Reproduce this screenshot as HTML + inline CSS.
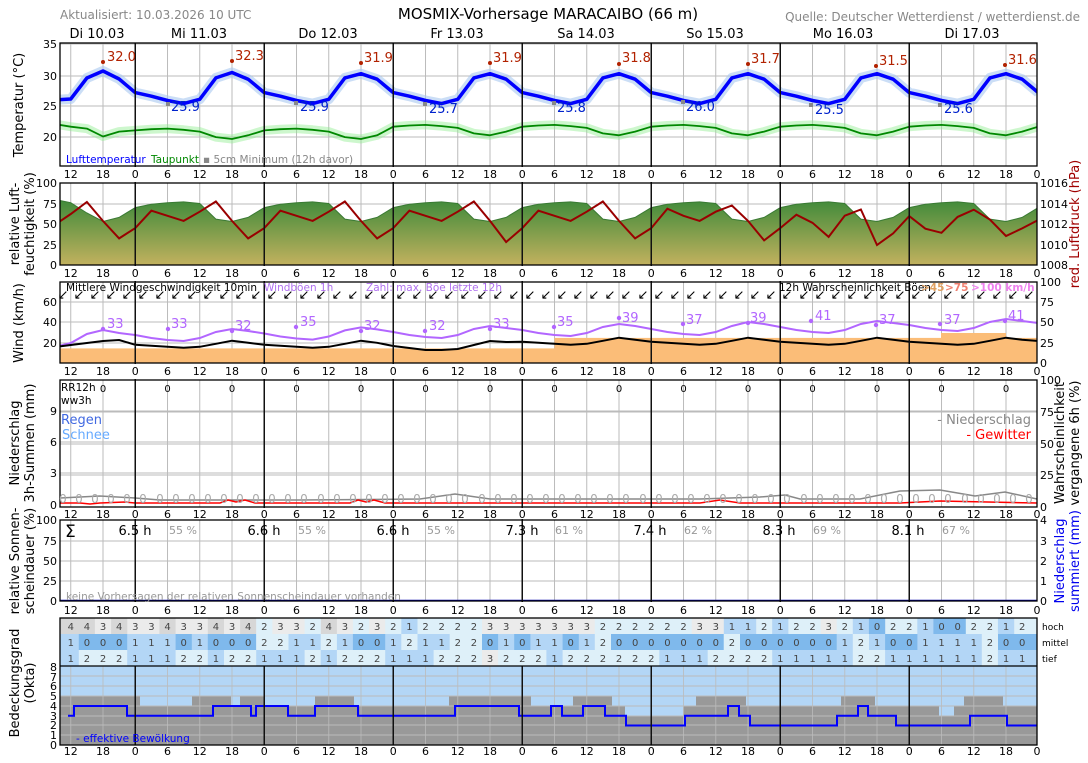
<!DOCTYPE html>
<html><head><meta charset="utf-8"><style>
html,body{margin:0;padding:0;background:#fff;}
svg{display:block;font-family:"DejaVu Sans","Liberation Sans",sans-serif;}
.tk text{font-size:11px;text-anchor:middle;}
</style></head><body>
<svg width="1088" height="763" viewBox="0 0 1088 763" xmlns="http://www.w3.org/2000/svg">
<defs>
<linearGradient id="hg" x1="0" y1="0" x2="0" y2="1"><stop offset="0" stop-color="#3f8a3a"/><stop offset="1" stop-color="#c2b15e"/></linearGradient>
<pattern id="vg" patternUnits="userSpaceOnUse" x="70.25" y="0" width="32.25" height="800"><rect x="0" y="0" width="1" height="800" fill="#bbb"/></pattern>
<clipPath id="c1"><rect x="60" y="43" width="977" height="123"/></clipPath>
<clipPath id="c2"><rect x="60" y="183" width="977" height="82"/></clipPath>
<clipPath id="c3"><rect x="60" y="282" width="977" height="81"/></clipPath>
<clipPath id="c4"><rect x="60" y="380" width="977" height="127"/></clipPath>
</defs>

<!-- okta backgrounds -->
<rect x="60" y="666" width="977" height="79" fill="#b3d6f6"/>
<path d="M60 745 L60 696.25 L140 696.25 L140 706 L192 706 L192 696.25 L231 696.25 L231 706 L240 706 L240 696.25 L264 696.25 L264 706 L315 706 L315 696.25 L354 696.25 L354 706 L449 706 L449 696.25 L531 696.25 L531 706 L573 706 L573 696.25 L612 696.25 L612 706 L625 706 L625 715.75 L683 715.75 L683 706 L696 706 L696 696.25 L746 696.25 L746 706 L841 706 L841 696.25 L875 696.25 L875 706 L939 706 L939 715.75 L954 715.75 L954 706 L964 706 L964 696.25 L1003 696.25 L1003 706 L1037 706 L1037 745 Z" fill="#999"/>

<!-- vertical grids -->
<rect x="60" y="43" width="977" height="123" fill="url(#vg)"/>
<rect x="60" y="183" width="977" height="82" fill="url(#vg)"/>
<rect x="60" y="282" width="977" height="81" fill="url(#vg)"/>
<rect x="60" y="380" width="977" height="127" fill="url(#vg)"/>
<rect x="60" y="520" width="977" height="81" fill="url(#vg)"/>
<rect x="60" y="666" width="977" height="79" fill="url(#vg)" opacity="0.8"/>
<!-- horizontal grids -->
<path fill="none" stroke="#bbb" stroke-width="1" d="M60 44H1037M60 76H1037M60 106H1037M60 137H1037 M60 204H1037M60 224H1037M60 245H1037 M60 302H1037M60 322H1037M60 343H1037 M60 411H1037M60 442H1037M60 473H1037M60 412H1037M60 444H1037M60 475H1037 M60 541H1037M60 561H1037M60 581H1037 M60 676H1037M60 686H1037M60 696H1037M60 706H1037M60 716H1037M60 725H1037M60 735H1037"/>

<!-- humidity / pressure -->
<g clip-path="url(#c2)">
<polygon fill="url(#hg)" stroke="#3a7a34" stroke-width="1" points="54.6,265 54.6,199.4 70.75,202.7 86.88,213 103,221.5 119.13,217.4 135.25,207.6 151.38,204.3 167.5,202.7 183.63,201.9 199.75,203.5 215.88,219.1 232,221.5 248.13,217.4 264.25,207.6 280.38,204.3 296.5,202.7 312.63,201.9 328.75,203.5 344.88,219.1 361,221.5 377.13,217.4 393.25,207.6 409.38,204.3 425.5,202.7 441.63,201.9 457.75,203.5 473.88,219.1 490,221.5 506.13,217.4 522.25,207.6 538.38,204.3 554.5,202.7 570.63,201.9 586.75,203.5 602.88,219.1 619,221.5 635.13,217.4 651.25,207.6 667.38,204.3 683.5,202.7 699.63,201.9 715.75,203.5 731.88,219.1 748,221.5 764.13,217.4 780.25,207.6 796.38,204.3 812.5,202.7 828.63,201.9 844.75,203.5 860.88,219.1 877,221.5 893.13,217.4 909.25,207.6 925.38,204.3 941.5,202.7 957.63,201.9 973.75,203.5 989.88,219.1 1006,221.5 1022.13,217.4 1038.25,207.6 1038.25,265"/>
<polyline fill="none" stroke="#990000" stroke-width="2" points="54.6,225 70.75,214 86.88,202 103,221 119.13,238.4 135.25,228.1 151.38,210.7 167.5,215.8 183.63,220.9 199.75,211.7 215.88,201.5 232,220.9 248.13,238.4 264.25,228.1 280.38,210.7 296.5,215.8 312.63,220.9 328.75,211.7 344.88,201.5 361,220.9 377.13,238.4 393.25,228.1 409.38,210.7 425.5,215.8 441.63,220.9 457.75,211.7 473.88,201.5 490,220.9 506.13,242 522.25,228.1 538.38,210.7 554.5,215.8 570.63,220.9 586.75,211.7 602.88,201.5 619,220.9 635.13,238.4 651.25,228.1 667.38,208.7 683.5,215.8 699.63,220.9 715.75,211.7 731.88,205.5 748,220.9 764.13,240.4 780.25,228.1 796.38,214.7 812.5,222.8 828.63,236.9 844.75,215.7 860.88,209.5 877,245 893.13,233.4 909.25,216.1 925.38,228.7 941.5,232.8 957.63,216.9 973.75,209.7 989.88,219.5 1006,236 1022.13,228.4 1038.25,220"/>
</g>

<!-- temperature -->
<g clip-path="url(#c1)" fill="none" stroke-linejoin="round">
<polyline stroke="#90ee90" stroke-opacity="0.45" stroke-width="9" points="54.6,124 70.75,126.7 86.88,128.6 103,136.5 119.13,131.6 135.25,130.4 151.38,129.2 167.5,128.6 183.63,129.8 199.75,131.6 215.88,137.1 232,139 248.13,135.3 264.25,130.4 280.38,129.2 296.5,128.6 312.63,129.8 328.75,131.6 344.88,137.1 361,139 377.13,135.3 393.25,126.7 409.38,125.5 425.5,124.9 441.63,126.1 457.75,127.9 473.88,133.4 490,135.3 506.13,131.6 522.25,126.7 538.38,125.5 554.5,124.9 570.63,126.1 586.75,127.9 602.88,133.4 619,135.3 635.13,131.6 651.25,126.7 667.38,125.5 683.5,124.9 699.63,126.1 715.75,127.9 731.88,133.4 748,135.3 764.13,131.6 780.25,126.7 796.38,125.5 812.5,124.9 828.63,126.1 844.75,127.9 860.88,133.4 877,135.3 893.13,131.6 909.25,126.7 925.38,125.5 941.5,124.9 957.63,126.1 973.75,127.9 989.88,133.4 1006,135.3 1022.13,131.6 1038.25,126.7"/>
<polyline stroke="#008800" stroke-width="1.8" points="54.6,124 70.75,126.7 86.88,128.6 103,136.5 119.13,131.6 135.25,130.4 151.38,129.2 167.5,128.6 183.63,129.8 199.75,131.6 215.88,137.1 232,139 248.13,135.3 264.25,130.4 280.38,129.2 296.5,128.6 312.63,129.8 328.75,131.6 344.88,137.1 361,139 377.13,135.3 393.25,126.7 409.38,125.5 425.5,124.9 441.63,126.1 457.75,127.9 473.88,133.4 490,135.3 506.13,131.6 522.25,126.7 538.38,125.5 554.5,124.9 570.63,126.1 586.75,127.9 602.88,133.4 619,135.3 635.13,131.6 651.25,126.7 667.38,125.5 683.5,124.9 699.63,126.1 715.75,127.9 731.88,133.4 748,135.3 764.13,131.6 780.25,126.7 796.38,125.5 812.5,124.9 828.63,126.1 844.75,127.9 860.88,133.4 877,135.3 893.13,131.6 909.25,126.7 925.38,125.5 941.5,124.9 957.63,126.1 973.75,127.9 989.88,133.4 1006,135.3 1022.13,131.6 1038.25,126.7"/>
<polyline stroke="#a9c8f0" stroke-opacity="0.6" stroke-width="10" points="54.6,100 70.75,99 86.88,78 103,71 119.13,79 135.25,92.6 151.38,96.2 167.5,100.5 183.63,103.6 199.75,99.3 215.88,77.9 232,72.5 248.13,79.2 264.25,92.6 280.38,96.2 296.5,100.5 312.63,103.6 328.75,99.3 344.88,77.9 361,73.7 377.13,79.2 393.25,92.6 409.38,96.2 425.5,100.5 441.63,103.6 457.75,99.3 473.88,77.9 490,73.7 506.13,79.2 522.25,92.6 538.38,96.2 554.5,100.5 570.63,103.6 586.75,99.3 602.88,77.9 619,73.7 635.13,79.2 651.25,92.6 667.38,96.2 683.5,100.5 699.63,103.6 715.75,99.3 731.88,77.9 748,73.7 764.13,79.2 780.25,92.6 796.38,96.2 812.5,100.5 828.63,103.6 844.75,99.3 860.88,77.9 877,73.7 893.13,79.2 909.25,92.6 925.38,96.2 941.5,100.5 957.63,103.6 973.75,99.3 989.88,77.9 1006,73.7 1022.13,79.2 1038.25,92.6"/>
<polyline stroke="#0000ff" stroke-width="3.5" points="54.6,100 70.75,99 86.88,78 103,71 119.13,79 135.25,92.6 151.38,96.2 167.5,100.5 183.63,103.6 199.75,99.3 215.88,77.9 232,72.5 248.13,79.2 264.25,92.6 280.38,96.2 296.5,100.5 312.63,103.6 328.75,99.3 344.88,77.9 361,73.7 377.13,79.2 393.25,92.6 409.38,96.2 425.5,100.5 441.63,103.6 457.75,99.3 473.88,77.9 490,73.7 506.13,79.2 522.25,92.6 538.38,96.2 554.5,100.5 570.63,103.6 586.75,99.3 602.88,77.9 619,73.7 635.13,79.2 651.25,92.6 667.38,96.2 683.5,100.5 699.63,103.6 715.75,99.3 731.88,77.9 748,73.7 764.13,79.2 780.25,92.6 796.38,96.2 812.5,100.5 828.63,103.6 844.75,99.3 860.88,77.9 877,73.7 893.13,79.2 909.25,92.6 925.38,96.2 941.5,100.5 957.63,103.6 973.75,99.3 989.88,77.9 1006,73.7 1022.13,79.2 1038.25,92.6"/>
</g>
<g fill="#b22200"><circle cx="103" cy="62" r="2"/><circle cx="232" cy="61" r="2"/><circle cx="361" cy="63" r="2"/><circle cx="490" cy="63" r="2"/><circle cx="619" cy="64" r="2"/><circle cx="748" cy="64" r="2"/><circle cx="876" cy="66" r="2"/><circle cx="1005" cy="65" r="2"/></g>
<g fill="#888"><rect x="166" y="102" width="4" height="4"/><rect x="294" y="101" width="4" height="4"/><rect x="423" y="102" width="4" height="4"/><rect x="552" y="101" width="4" height="4"/><rect x="681" y="100" width="4" height="4"/><rect x="809" y="103" width="4" height="4"/><rect x="938" y="103" width="4" height="4"/></g>

<!-- wind -->
<g clip-path="url(#c3)">
<rect x="60" y="348.4" width="494.5" height="14.6" fill="#fbbd78"/>
<rect x="554.5" y="337.9" width="386.5" height="25.1" fill="#fbbd78"/>
<rect x="941" y="333" width="65" height="30" fill="#fbbd78"/>
<rect x="1006" y="337.9" width="31" height="25.1" fill="#fbbd78"/>
<polyline fill="none" stroke="#b266ff" stroke-width="2" points="54.6,347 70.75,343 86.88,334 103,330 119.13,333 135.25,335 151.38,338 167.5,340 183.63,341 199.75,338 215.88,332 232,329 248.13,331 264.25,333.5 280.38,336.5 296.5,338.5 312.63,339.6 328.75,336.5 344.88,330.4 361,327.4 377.13,329.4 393.25,332 409.38,335 425.5,337 441.63,338 457.75,335 473.88,329 490,326 506.13,328 522.25,330 538.38,333 554.5,335 570.63,336 586.75,333 602.88,327 619,324 635.13,326 651.25,329 667.38,332 683.5,334 699.63,335 715.75,332 731.88,326 748,322 764.13,324 780.25,327 796.38,330 812.5,332 828.63,333 844.75,330 860.88,324 877,321 893.13,323 909.25,325 925.38,328 941.5,330 957.63,331 973.75,328 989.88,322 1006,319 1022.13,321 1038.25,323"/>
<polyline fill="none" stroke="#000" stroke-width="2" points="54.6,347 70.75,345 86.88,343 103,341 119.13,340 135.25,344.8 151.38,345.8 167.5,346.8 183.63,347.8 199.75,346.8 215.88,343.8 232,340.7 248.13,342.8 264.25,344.8 280.38,345.8 296.5,346.8 312.63,347.8 328.75,346.8 344.88,343.8 361,340.7 377.13,342.8 393.25,346 409.38,348 425.5,350 441.63,350 457.75,349 473.88,345 490,341 506.13,342 522.25,341.8 538.38,342.8 554.5,343.8 570.63,344.8 586.75,343.8 602.88,340.8 619,337.7 635.13,339.8 651.25,341.8 667.38,342.8 683.5,343.8 699.63,344.8 715.75,343.8 731.88,340.8 748,337.7 764.13,339.8 780.25,341.8 796.38,342.8 812.5,343.8 828.63,344.8 844.75,343.8 860.88,340.8 877,337.7 893.13,339.8 909.25,341.8 925.38,342.8 941.5,343.8 957.63,344.8 973.75,343.8 989.88,340.8 1006,337.7 1022.13,339.8 1038.25,341"/>
</g>
<g fill="#b266ff"><circle cx="103" cy="329" r="2.2"/><circle cx="168" cy="329" r="2.2"/><circle cx="232" cy="331" r="2.2"/><circle cx="296" cy="327" r="2.2"/><circle cx="361" cy="331" r="2.2"/><circle cx="425" cy="331" r="2.2"/><circle cx="490" cy="329" r="2.2"/><circle cx="554" cy="327" r="2.2"/><circle cx="619" cy="318" r="2.2"/><circle cx="683" cy="324" r="2.2"/><circle cx="748" cy="323" r="2.2"/><circle cx="811" cy="321" r="2.2"/><circle cx="876" cy="325" r="2.2"/><circle cx="940" cy="324" r="2.2"/><circle cx="1005" cy="321" r="2.2"/></g>

<!-- precip -->
<g clip-path="url(#c4)" fill="none" stroke-width="1.5">
<path stroke="#888" d="M60 498 L100 496 L135 498 L160 500 L300 500 L420 499 L455 494 L490 499 L700 499 L760 497 L785 495 L800 499 L860 499 L900 491 L940 490 L975 496 L1005 492 L1037 499"/>
<path stroke="#ff0000" d="M60 503 L80 503 L90 504 L100 503 L125 502 L135 503 L220 503 L228 500 L236 502 L245 500 L255 503 L350 503 L358 500 L366 502 L374 500 L385 503 L700 503 L720 500 L740 503 L900 503 L940 501 L1037 503"/>
</g>
<line x1="60" x2="1037" y1="600.5" y2="600.5" stroke="#0000aa" stroke-width="1.5"/>

<!-- effective cloud -->
<path fill="none" stroke="#0000ff" stroke-width="2" d="M68 715.75 L74 715.75 L74 706 L127 706 L127 715.75 L213 715.75 L213 706 L251 706 L251 715.75 L256 715.75 L256 706 L288 706 L288 715.75 L315 715.75 L315 706 L358 706 L358 715.75 L455 715.75 L455 706 L519 706 L519 715.75 L551 715.75 L551 706 L562 706 L562 715.75 L583 715.75 L583 706 L605 706 L605 715.75 L626 715.75 L626 725.5 L685 725.5 L685 715.75 L728 715.75 L728 706 L739 706 L739 715.75 L750 715.75 L750 725.5 L837 725.5 L837 715.75 L858 715.75 L858 706 L868 706 L868 715.75 L896 715.75 L896 725.5 L970 725.5 L970 715.75 L1007 715.75 L1007 725.5 L1037 725.5"/>

<!-- day lines -->
<path stroke="#111" stroke-width="1.5" d="M135.25 43V745M264.25 43V745M393.25 43V745M522.25 43V745M651.25 43V745M780.25 43V745M909.25 43V745"/>
<g fill="#fff"><rect x="59" y="167" width="980" height="15"/><rect x="59" y="266" width="980" height="15"/><rect x="59" y="364" width="980" height="15"/><rect x="59" y="508" width="980" height="11"/><rect x="59" y="602" width="980" height="16"/></g>

<!-- cloud table -->
<rect x="60" y="618" width="977" height="16" fill="#ebebeb"/>
<g fill="#d7d7d7"><rect x="60" y="618" width="34.9" height="16"/><rect x="111.1" y="618" width="16.2" height="16"/><rect x="159.4" y="618" width="16.2" height="16"/><rect x="207.8" y="618" width="16.2" height="16"/><rect x="240.1" y="618" width="16.2" height="16"/><rect x="320.7" y="618" width="16.2" height="16"/></g>
<g fill="#def0f9"><rect x="256.2" y="618" width="16.2" height="16"/><rect x="304.6" y="618" width="16.2" height="16"/><rect x="352.9" y="618" width="16.2" height="16"/><rect x="385.2" y="618" width="16.2" height="16"/><rect x="417.4" y="618" width="64.6" height="16"/><rect x="594.8" y="618" width="96.9" height="16"/><rect x="756.1" y="618" width="16.2" height="16"/><rect x="788.3" y="618" width="32.4" height="16"/><rect x="836.7" y="618" width="16.2" height="16"/><rect x="885.1" y="618" width="32.3" height="16"/><rect x="965.7" y="618" width="32.3" height="16"/><rect x="1014.1" y="618" width="22.9" height="16"/></g>
<g fill="#b3d6f6"><rect x="401.3" y="618" width="16.2" height="16"/><rect x="723.8" y="618" width="32.4" height="16"/><rect x="772.2" y="618" width="16.2" height="16"/><rect x="852.8" y="618" width="16.2" height="16"/><rect x="917.3" y="618" width="16.2" height="16"/><rect x="997.9" y="618" width="16.3" height="16"/></g>
<g fill="#7fb9ec"><rect x="868.9" y="618" width="16.3" height="16"/><rect x="933.4" y="618" width="32.4" height="16"/></g>
<rect x="60" y="634" width="977" height="16" fill="#b3d6f6"/>
<g fill="#7fb9ec"><rect x="78.8" y="634" width="48.4" height="16"/><rect x="175.6" y="634" width="16.2" height="16"/><rect x="207.8" y="634" width="48.4" height="16"/><rect x="352.9" y="634" width="32.3" height="16"/><rect x="481.9" y="634" width="16.2" height="16"/><rect x="514.2" y="634" width="16.2" height="16"/><rect x="562.6" y="634" width="16.2" height="16"/><rect x="610.9" y="634" width="112.9" height="16"/><rect x="739.9" y="634" width="96.8" height="16"/><rect x="885.1" y="634" width="32.3" height="16"/><rect x="997.9" y="634" width="39.1" height="16"/></g>
<g fill="#def0f9"><rect x="256.2" y="634" width="32.3" height="16"/><rect x="320.7" y="634" width="16.2" height="16"/><rect x="401.3" y="634" width="16.2" height="16"/><rect x="449.7" y="634" width="32.3" height="16"/><rect x="594.8" y="634" width="16.2" height="16"/><rect x="723.8" y="634" width="16.2" height="16"/><rect x="852.8" y="634" width="16.2" height="16"/><rect x="981.8" y="634" width="16.2" height="16"/></g>
<rect x="60" y="650" width="977" height="16" fill="#def0f9"/>
<g fill="#b3d6f6"><rect x="60" y="650" width="18.8" height="16"/><rect x="127.2" y="650" width="48.4" height="16"/><rect x="207.8" y="650" width="16.2" height="16"/><rect x="256.2" y="650" width="48.4" height="16"/><rect x="320.7" y="650" width="16.2" height="16"/><rect x="385.2" y="650" width="48.4" height="16"/><rect x="546.4" y="650" width="16.2" height="16"/><rect x="659.3" y="650" width="48.4" height="16"/><rect x="772.2" y="650" width="80.6" height="16"/><rect x="885.1" y="650" width="96.7" height="16"/><rect x="997.9" y="650" width="39.1" height="16"/></g>
<rect x="481.9" y="650" width="16.2" height="16" fill="#ebebeb"/>
<g style="font-size:10px" fill="#444" text-anchor="middle">
<text y="630" x="70.75 86.88 103 119.13 135.25 151.38 167.5 183.63 199.75 215.88 232 248.13 264.25 280.38 296.5 312.63 328.75 344.88 361 377.13 393.25 409.38 425.5 441.63 457.75 473.88 490 506.13 522.25 538.38 554.5 570.63 586.75 602.88 619 635.13 651.25 667.38 683.5 699.63 715.75 731.88 748 764.13 780.25 796.38 812.5 828.63 844.75 860.88 877 893.13 909.25 925.38 941.5 957.63 973.75 989.88 1006 1022.13">443433433434233243232122223333333222222331121223210221002212</text>
<text y="646" x="70.75 86.88 103 119.13 135.25 151.38 167.5 183.63 199.75 215.88 232 248.13 264.25 280.38 296.5 312.63 328.75 344.88 361 377.13 393.25 409.38 425.5 441.63 457.75 473.88 490 506.13 522.25 538.38 554.5 570.63 586.75 602.88 619 635.13 651.25 667.38 683.5 699.63 715.75 731.88 748 764.13 780.25 796.38 812.5 828.63 844.75 860.88 877 893.13 909.25 925.38 941.5 957.63 973.75 989.88 1006 1022.13">100011101000221121001211220101101200000002000000121001111200</text>
<text y="662" x="70.75 86.88 103 119.13 135.25 151.38 167.5 183.63 199.75 215.88 232 248.13 264.25 280.38 296.5 312.63 328.75 344.88 361 377.13 393.25 409.38 425.5 441.63 457.75 473.88 490 506.13 522.25 538.38 554.5 570.63 586.75 602.88 619 635.13 651.25 667.38 683.5 699.63 715.75 731.88 748 764.13 780.25 796.38 812.5 828.63 844.75 860.88 877 893.13 909.25 925.38 941.5 957.63 973.75 989.88 1006 1022.13">122211122122111212221112223222122222211122221111122111111211</text>
</g>

<g fill="none" stroke="#000" stroke-width="1.3">
<rect x="60" y="43" width="977" height="123"/>
<rect x="60" y="183" width="977" height="82"/>
<rect x="60" y="282" width="977" height="81"/>
<rect x="60" y="380" width="977" height="127"/>
<rect x="60" y="520" width="977" height="81"/>
<rect x="60" y="618" width="977" height="127"/>
<line x1="60" x2="1037" y1="666" y2="666"/>
</g>

<!-- header -->
<text x="60" y="19" style="font-size:12px" fill="#888">Aktualisiert: 10.03.2026 10 UTC</text>
<text x="548" y="19" style="font-size:15px" text-anchor="middle">MOSMIX-Vorhersage MARACAIBO (66 m)</text>
<text x="1080" y="21" style="font-size:12px" fill="#888" text-anchor="end">Quelle: Deutscher Wetterdienst / wetterdienst.de</text>
<g style="font-size:13px" text-anchor="middle">
<text x="97" y="38">Di 10.03</text><text x="199" y="38">Mi 11.03</text><text x="328" y="38">Do 12.03</text><text x="457" y="38">Fr 13.03</text><text x="586" y="38">Sa 14.03</text><text x="715" y="38">So 15.03</text><text x="843" y="38">Mo 16.03</text><text x="972" y="38">Di 17.03</text>
</g>

<g class="tk">
<text y="178"><tspan x="70.75">12</tspan><tspan x="103">18</tspan><tspan x="135.25">0</tspan><tspan x="167.5">6</tspan><tspan x="199.75">12</tspan><tspan x="232">18</tspan><tspan x="264.25">0</tspan><tspan x="296.5">6</tspan><tspan x="328.75">12</tspan><tspan x="361">18</tspan><tspan x="393.25">0</tspan><tspan x="425.5">6</tspan><tspan x="457.75">12</tspan><tspan x="490">18</tspan><tspan x="522.25">0</tspan><tspan x="554.5">6</tspan><tspan x="586.75">12</tspan><tspan x="619">18</tspan><tspan x="651.25">0</tspan><tspan x="683.5">6</tspan><tspan x="715.75">12</tspan><tspan x="748">18</tspan><tspan x="780.25">0</tspan><tspan x="812.5">6</tspan><tspan x="844.75">12</tspan><tspan x="877">18</tspan><tspan x="909.25">0</tspan><tspan x="941.5">6</tspan><tspan x="973.75">12</tspan><tspan x="1006">18</tspan><tspan x="1037">0</tspan></text>
<text y="277"><tspan x="70.75">12</tspan><tspan x="103">18</tspan><tspan x="135.25">0</tspan><tspan x="167.5">6</tspan><tspan x="199.75">12</tspan><tspan x="232">18</tspan><tspan x="264.25">0</tspan><tspan x="296.5">6</tspan><tspan x="328.75">12</tspan><tspan x="361">18</tspan><tspan x="393.25">0</tspan><tspan x="425.5">6</tspan><tspan x="457.75">12</tspan><tspan x="490">18</tspan><tspan x="522.25">0</tspan><tspan x="554.5">6</tspan><tspan x="586.75">12</tspan><tspan x="619">18</tspan><tspan x="651.25">0</tspan><tspan x="683.5">6</tspan><tspan x="715.75">12</tspan><tspan x="748">18</tspan><tspan x="780.25">0</tspan><tspan x="812.5">6</tspan><tspan x="844.75">12</tspan><tspan x="877">18</tspan><tspan x="909.25">0</tspan><tspan x="941.5">6</tspan><tspan x="973.75">12</tspan><tspan x="1006">18</tspan><tspan x="1037">0</tspan></text>
<text y="375"><tspan x="70.75">12</tspan><tspan x="103">18</tspan><tspan x="135.25">0</tspan><tspan x="167.5">6</tspan><tspan x="199.75">12</tspan><tspan x="232">18</tspan><tspan x="264.25">0</tspan><tspan x="296.5">6</tspan><tspan x="328.75">12</tspan><tspan x="361">18</tspan><tspan x="393.25">0</tspan><tspan x="425.5">6</tspan><tspan x="457.75">12</tspan><tspan x="490">18</tspan><tspan x="522.25">0</tspan><tspan x="554.5">6</tspan><tspan x="586.75">12</tspan><tspan x="619">18</tspan><tspan x="651.25">0</tspan><tspan x="683.5">6</tspan><tspan x="715.75">12</tspan><tspan x="748">18</tspan><tspan x="780.25">0</tspan><tspan x="812.5">6</tspan><tspan x="844.75">12</tspan><tspan x="877">18</tspan><tspan x="909.25">0</tspan><tspan x="941.5">6</tspan><tspan x="973.75">12</tspan><tspan x="1006">18</tspan><tspan x="1037">0</tspan></text>
<text y="518"><tspan x="70.75">12</tspan><tspan x="103">18</tspan><tspan x="135.25">0</tspan><tspan x="167.5">6</tspan><tspan x="199.75">12</tspan><tspan x="232">18</tspan><tspan x="264.25">0</tspan><tspan x="296.5">6</tspan><tspan x="328.75">12</tspan><tspan x="361">18</tspan><tspan x="393.25">0</tspan><tspan x="425.5">6</tspan><tspan x="457.75">12</tspan><tspan x="490">18</tspan><tspan x="522.25">0</tspan><tspan x="554.5">6</tspan><tspan x="586.75">12</tspan><tspan x="619">18</tspan><tspan x="651.25">0</tspan><tspan x="683.5">6</tspan><tspan x="715.75">12</tspan><tspan x="748">18</tspan><tspan x="780.25">0</tspan><tspan x="812.5">6</tspan><tspan x="844.75">12</tspan><tspan x="877">18</tspan><tspan x="909.25">0</tspan><tspan x="941.5">6</tspan><tspan x="973.75">12</tspan><tspan x="1006">18</tspan><tspan x="1037">0</tspan></text>
<text y="614"><tspan x="70.75">12</tspan><tspan x="103">18</tspan><tspan x="135.25">0</tspan><tspan x="167.5">6</tspan><tspan x="199.75">12</tspan><tspan x="232">18</tspan><tspan x="264.25">0</tspan><tspan x="296.5">6</tspan><tspan x="328.75">12</tspan><tspan x="361">18</tspan><tspan x="393.25">0</tspan><tspan x="425.5">6</tspan><tspan x="457.75">12</tspan><tspan x="490">18</tspan><tspan x="522.25">0</tspan><tspan x="554.5">6</tspan><tspan x="586.75">12</tspan><tspan x="619">18</tspan><tspan x="651.25">0</tspan><tspan x="683.5">6</tspan><tspan x="715.75">12</tspan><tspan x="748">18</tspan><tspan x="780.25">0</tspan><tspan x="812.5">6</tspan><tspan x="844.75">12</tspan><tspan x="877">18</tspan><tspan x="909.25">0</tspan><tspan x="941.5">6</tspan><tspan x="973.75">12</tspan><tspan x="1006">18</tspan><tspan x="1037">0</tspan></text>
<text y="755"><tspan x="70.75">12</tspan><tspan x="103">18</tspan><tspan x="135.25">0</tspan><tspan x="167.5">6</tspan><tspan x="199.75">12</tspan><tspan x="232">18</tspan><tspan x="264.25">0</tspan><tspan x="296.5">6</tspan><tspan x="328.75">12</tspan><tspan x="361">18</tspan><tspan x="393.25">0</tspan><tspan x="425.5">6</tspan><tspan x="457.75">12</tspan><tspan x="490">18</tspan><tspan x="522.25">0</tspan><tspan x="554.5">6</tspan><tspan x="586.75">12</tspan><tspan x="619">18</tspan><tspan x="651.25">0</tspan><tspan x="683.5">6</tspan><tspan x="715.75">12</tspan><tspan x="748">18</tspan><tspan x="780.25">0</tspan><tspan x="812.5">6</tspan><tspan x="844.75">12</tspan><tspan x="877">18</tspan><tspan x="909.25">0</tspan><tspan x="941.5">6</tspan><tspan x="973.75">12</tspan><tspan x="1006">18</tspan><tspan x="1037">0</tspan></text>
</g>

<g style="font-size:11px" text-anchor="end">
<text x="57" y="48">35</text><text x="57" y="80">30</text><text x="57" y="110">25</text><text x="57" y="141">20</text>
<text x="57" y="187">100</text><text x="57" y="208">75</text><text x="57" y="228">50</text><text x="57" y="249">25</text><text x="57" y="269">0</text>
<text x="57" y="306">60</text><text x="57" y="326">40</text><text x="57" y="347">20</text>
<text x="57" y="415">9</text><text x="57" y="446">6</text><text x="57" y="477">3</text><text x="57" y="509">0</text>
<text x="57" y="524">100</text><text x="57" y="545">75</text><text x="57" y="565">50</text><text x="57" y="585">25</text><text x="57" y="605">0</text>
<text x="57" y="671">8</text><text x="57" y="681">7</text><text x="57" y="690">6</text><text x="57" y="700">5</text><text x="57" y="710">4</text><text x="57" y="720">3</text><text x="57" y="729">2</text><text x="57" y="739">1</text><text x="57" y="749">0</text>
</g>
<g style="font-size:11px">
<text x="1040" y="187">1016</text><text x="1040" y="208">1014</text><text x="1040" y="228">1012</text><text x="1040" y="249">1010</text><text x="1040" y="269">1008</text>
<text x="1040" y="286">100</text><text x="1040" y="306">75</text><text x="1040" y="326">50</text><text x="1040" y="347">25</text><text x="1040" y="367">0</text>
<text x="1040" y="384">100</text><text x="1040" y="416">75</text><text x="1040" y="448">50</text><text x="1040" y="479">25</text><text x="1040" y="511">0</text>
<text x="1040" y="524">4</text><text x="1040" y="545">3</text><text x="1040" y="565">2</text><text x="1040" y="585">1</text><text x="1040" y="605">0</text>
<text x="1042" y="630" style="font-size:9px">hoch</text><text x="1042" y="646" style="font-size:9px">mittel</text><text x="1042" y="662" style="font-size:9px">tief</text>
</g>

<g style="font-size:13px" text-anchor="middle">
<text transform="translate(23,105) rotate(-90)">Temperatur (°C)</text>
<text transform="translate(19,224) rotate(-90)">relative Luft-</text>
<text transform="translate(34,224) rotate(-90)">feuchtigkeit (%)</text>
<text transform="translate(23,323) rotate(-90)">Wind (km/h)</text>
<text transform="translate(19,443) rotate(-90)">Niederschlag</text>
<text transform="translate(34,443) rotate(-90)">3h-Summen (mm)</text>
<text transform="translate(19,561) rotate(-90)">relative Sonnen-</text>
<text transform="translate(34,561) rotate(-90)">scheindauer (%)</text>
<text transform="translate(19,683) rotate(-90)">Bedeckungsgrad</text>
<text transform="translate(34,683) rotate(-90)">(Okta)</text>
<text transform="translate(1079,224) rotate(-90)" fill="#a00000">red. Luftdruck (hPa)</text>
<text transform="translate(1064,443) rotate(-90)">Wahrscheinlichkeit</text>
<text transform="translate(1079,443) rotate(-90)">vergangene 6h (%)</text>
<text transform="translate(1064,561) rotate(-90)" fill="#0000ee">Niederschlag</text>
<text transform="translate(1079,561) rotate(-90)" fill="#0000ee">summiert (mm)</text>
</g>

<text y="299" style="font-size:13px" text-anchor="middle" x="63 79 95 111 127 143 160 176 192 208 224 240 256 272 288 304 321 337 353 369 385 401 417 433 449 465 482 498 514 530 546 562 578 594 610 626 643 659 675 691 707 723 739 755 771 787 804 820 836 852 868 884 900 916 932 948 965 981 997 1013 1029">↙↙↙↙↙↙↙↙↙↙↙↙↙↙↙↙↙↙↙↙↙↙↙↙↙↙↙↙↙↙↙↙↙↙↙↙↙↙↙↙↙↙↙↙↙↙↙↙↙↙↙↙↙↙↙↙↙↙↙↙↙</text>

<text y="503" style="font-size:12px" fill="#aaa" text-anchor="middle" x="63 79 95 111 127 143 160 176 192 208 224 240 256 272 288 304 321 337 353 369 385 401 417 433 449 465 482 498 514 530 546 562 578 594 610 626 643 659 675 691 707 723 739 755 771 787 804 820 836 852 868 884 900 916 932 948 965 981 997 1013 1029">0000000000000000000000000000000000000000000000000000000000000</text>
<g style="font-size:10px" text-anchor="middle">
<text x="103" y="392">0</text><text x="167.5" y="392">0</text><text x="232" y="392">0</text><text x="296.5" y="392">0</text><text x="361" y="392">0</text><text x="425.5" y="392">0</text><text x="490" y="392">0</text><text x="554.5" y="392">0</text><text x="619" y="392">0</text><text x="683.5" y="392">0</text><text x="748" y="392">0</text><text x="812.5" y="392">0</text><text x="877" y="392">0</text><text x="941.5" y="392">0</text><text x="1006" y="392">0</text>
</g>

<g style="font-size:10.5px">
<text x="66" y="163" fill="#0000ff">Lufttemperatur</text>
<text x="151" y="163" fill="#008800">Taupunkt</text>
<text x="203" y="163" fill="#888">▪ 5cm Minimum (12h davor)</text>
<text x="66" y="291">Mittlere Windgeschwindigkeit 10min</text>
<text x="264" y="291" fill="#b070f0">Windböen 1h</text>
<text x="366" y="291" fill="#b070f0">Zahl: max. Böe letzte 12h</text>
<text x="779" y="291">12h Wahrscheinlichkeit Böen</text>
<text x="921" y="291" fill="#e0a060" font-weight="bold">&gt;45</text>
<text x="945" y="291" fill="#f08070" font-weight="bold">&gt;75</text>
<text x="971" y="291" fill="#ee82ee" font-weight="bold">&gt;100 km/h</text>
<text x="61" y="391">RR12h</text><text x="61" y="404">ww3h</text>
<text x="66" y="600" fill="#999">keine Vorhersagen der relativen Sonnenscheindauer vorhanden</text>
<text x="76" y="742" fill="#0000ff">- effektive Bewölkung</text>
</g>
<g style="font-size:13px">
<text x="61" y="424" fill="#4169e1">Regen</text>
<text x="62" y="439" fill="#66aaff">Schnee</text>
<text x="1031" y="424" fill="#888" text-anchor="end">- Niederschlag</text>
<text x="1031" y="439" fill="#ff0000" text-anchor="end">- Gewitter</text>
<text x="65" y="537" style="font-size:17px">Σ</text>
</g>
<g style="font-size:13px" text-anchor="middle">
<text x="135" y="535">6.5 h</text><text x="264" y="535">6.6 h</text><text x="393" y="535">6.6 h</text><text x="522" y="535">7.3 h</text><text x="650" y="535">7.4 h</text><text x="779" y="535">8.3 h</text><text x="908" y="535">8.1 h</text>
</g>
<g style="font-size:11px" fill="#999" text-anchor="middle">
<text x="183" y="534">55 %</text><text x="312" y="534">55 %</text><text x="441" y="534">55 %</text><text x="569" y="534">61 %</text><text x="698" y="534">62 %</text><text x="827" y="534">69 %</text><text x="956" y="534">67 %</text>
</g>
<g style="font-size:13px" fill="#b22200">
<text x="107" y="61">32.0</text><text x="235" y="60">32.3</text><text x="364" y="62">31.9</text><text x="493" y="62">31.9</text><text x="622" y="62">31.8</text><text x="751" y="63">31.7</text><text x="879" y="65">31.5</text><text x="1008" y="64">31.6</text>
</g>
<g style="font-size:13px" fill="#0022cc">
<text x="171" y="111">25.9</text><text x="300" y="111">25.9</text><text x="429" y="113">25.7</text><text x="557" y="112">25.8</text><text x="686" y="111">26.0</text><text x="815" y="114">25.5</text><text x="944" y="113">25.6</text>
</g>
<g style="font-size:13px" fill="#b266ff">
<text x="107" y="328">33</text><text x="171" y="328">33</text><text x="235" y="330">32</text><text x="300" y="326">35</text><text x="364" y="330">32</text><text x="429" y="330">32</text><text x="493" y="328">33</text><text x="557" y="326">35</text><text x="622" y="322">39</text><text x="686" y="324">37</text><text x="750" y="322">39</text><text x="815" y="320">41</text><text x="879" y="324">37</text><text x="944" y="324">37</text><text x="1008" y="320">41</text>
</g>
</svg>
</body></html>
